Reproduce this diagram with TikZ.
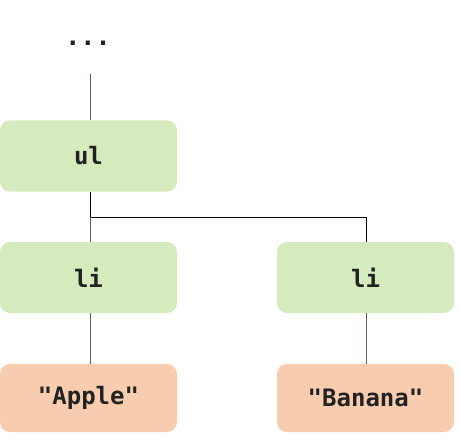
\documentclass[tikz,border=0pt]{standalone}
\usepackage{fontspec}
\setmonofont{DejaVu Sans Mono}
\definecolor{elemfill}{HTML}{D5EBBD}
\definecolor{textfill}{HTML}{F8CCAE}
\definecolor{txt}{HTML}{222222}
\definecolor{slate}{HTML}{55627F}
\tikzset{
  box/.style={rounded corners=10pt, minimum width=177pt, minimum height=71pt, inner sep=0pt, font=\ttfamily\bfseries\fontsize{24}{29}\selectfont, text=txt},
  elem/.style={box, fill=elemfill},
  textnode/.style={box, fill=textfill, minimum height=68pt},
  link/.style={draw=slate, line width=0.8pt},
  blink/.style={draw=black, line width=0.9pt}
}
\begin{document}
\begin{tikzpicture}[x=1pt,y=-1pt]
\useasboundingbox (0,0) rectangle (460,441);
\node[anchor=base, font=\ttfamily\bfseries\fontsize{25}{30}\selectfont, text=txt, inner sep=0pt] (dots) at (88,46) {...};
\coordinate (dotsend) at (90,74);
\node[elem] (ul) at (88.5,156) {ul};
\node[elem] (li1) at (88.5,277.5) {li};
\node[elem] (li2) at (365.5,277.5) {li};
\node[textnode] (t1) at (88.5,398) {"Apple"};
\node[textnode] (t2) at (365.5,398) {"Banana"};
\coordinate (junc) at (90,217);
\coordinate (juncr) at (366,217);
\draw[link] (dotsend) -- (ul.north -| dotsend);
\draw[blink] (ul.south -| junc) -- (junc) -- (juncr);
\draw[link] (junc) -- (li1.north -| junc);
\draw[blink] (juncr) -- (li2.north -| juncr);
\draw[link] (li1.south -| junc) -- (t1.north -| junc);
\draw[link] (li2.south -| juncr) -- (t2.north -| juncr);
\end{tikzpicture}
\end{document}
